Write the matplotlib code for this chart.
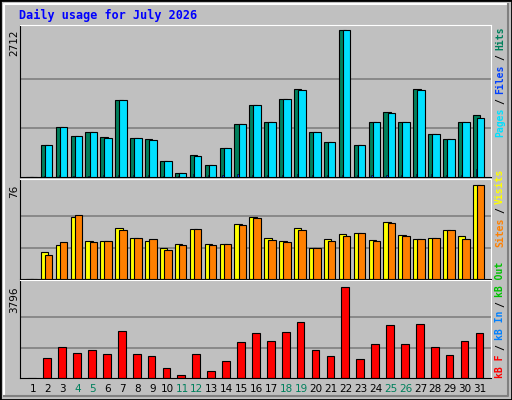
import matplotlib
matplotlib.use("Agg")
import matplotlib.pyplot as plt
from matplotlib.patches import Rectangle
import numpy as np

days = list(range(1, 32))
weekend_days = [4, 5, 11, 12, 18, 19, 25, 26]

hits = [0, 595, 926, 760, 834, 742, 1411, 723, 705, 301, 80, 411, 227, 540, 982, 1331,
        1018, 1442, 1626, 834, 650, 2712, 595, 1018, 1203, 1018, 1626, 797, 705, 1018, 1147]
pages = [0, 595, 926, 760, 834, 723, 1411, 723, 687, 301, 80, 393, 227, 540, 982, 1331,
         1018, 1442, 1608, 834, 650, 2712, 595, 1018, 1184, 1018, 1608, 797, 705, 1018, 1092]
files = [0, 25, 30, 25, 25, 30, 35, 30, 30, 25, 20, 60, 30, 30, 60, 35,
         35, 35, 60, 35, 35, 35, 35, 35, 35, 35, 55, 60, 35, 40, 150]
visits = [0, 21.7, 27.4, 49.7, 30.6, 30.6, 41.2, 33.0, 30.6, 24.7, 28.0, 40.4, 28.0, 28.0, 44.3, 49.7,
          33.0, 30.6, 41.2, 24.7, 32.2, 36.3, 37.1, 31.3, 46.2, 35.5, 32.2, 33.0, 39.5, 34.6, 76]
sites = [0, 19.2, 29.9, 51.3, 29.9, 30.6, 39.5, 33.0, 32.2, 23.0, 27.4, 40.4, 27.4, 28.0, 43.6, 48.9,
         31.3, 29.9, 39.5, 24.7, 30.6, 34.6, 37.1, 30.6, 45.5, 34.6, 32.2, 33.0, 39.5, 32.2, 76]
kbytes = [0, 845, 1302, 1053, 1178, 1011, 1967, 1011, 928, 429, 139, 1011, 305, 720, 1510, 1884,
          1551, 1925, 2341, 1178, 928, 3796, 803, 1427, 2216, 1427, 2258, 1302, 970, 1551, 1884]

BG = "#C0C0C0"
W, H = 512, 400
fig = plt.figure(figsize=(W / 100, H / 100), dpi=100, facecolor=BG)

def ax_at(top, bottom):
    return fig.add_axes([20 / W, 1 - bottom / H, (491 - 20) / W, (bottom - top) / H])

x = np.array(days)
panels = [
    (ax_at(25, 177), 2797, 2712),
    (ax_at(179, 279), 80.6, 76),
    (ax_at(280, 378), 4070, 3796),
]
for ax, ymax, vmax in panels:
    ax.set_facecolor(BG)
    ax.set_xlim(0.13, 31.74)
    ax.set_ylim(0, ymax)
    ax.set_xticks([])
    ax.set_yticks([])
    for g in (vmax / 3, 2 * vmax / 3):
        ax.axhline(g, color="#808080", lw=1.2, zorder=0)
    for s in ax.spines.values():
        s.set_color("black")
    ax.spines["top"].set_color("white")
    ax.spines["right"].set_color("white")
    ax.text(-0.013, vmax / ymax, str(vmax), transform=ax.transAxes, rotation=90,
            ha="center", va="top", fontsize=7.5, family="DejaVu Sans")

ax1, ax2, ax3 = [p[0] for p in panels]
ax1.bar(x - 0.48, hits, width=0.5, color="#00805C", edgecolor="black", lw=0.8, align="edge", zorder=2)
ax1.bar(x - 0.28, files, width=0.12, color="#0040FF", edgecolor="black", lw=0.4, align="edge", zorder=3)
ax1.bar(x - 0.2, pages, width=0.5, color="#00E0FF", edgecolor="black", lw=0.8, align="edge", zorder=4)
ax2.bar(x - 0.48, visits, width=0.5, color="#FFFF00", edgecolor="black", lw=0.8, align="edge", zorder=2)
ax2.bar(x - 0.2, sites, width=0.5, color="#FF8000", edgecolor="black", lw=0.8, align="edge", zorder=3)
ax3.bar(x - 0.3, kbytes, width=0.52, color="#FF0000", edgecolor="black", lw=0.8, align="edge", zorder=2)

# day labels
for d in days:
    fig.text((33 + (d - 1) * 14.9) / W, 1 - 389 / H, str(d), ha="center", va="center",
             fontsize=7.5, color="#00805C" if d in weekend_days else "black", family="DejaVu Sans")

fig.text(19 / W, 1 - 15 / H, "Daily usage for July 2026", color="#0000FF", fontsize=8.5,
         fontweight="bold", family="DejaVu Sans Mono", va="center")

def legend(parts, y_bottom):
    y = y_bottom
    for txt, col in parts:
        fig.text(500 / W, 1 - y / H, txt, rotation=90, color=col, fontsize=7,
                 fontweight="bold", family="DejaVu Sans Mono", ha="center", va="bottom")
        y -= len(txt) * 5.9 + 4

legend([("Pages", "#00E0FF"), ("/", "black"), ("Files", "#0040FF"), ("/", "black"), ("Hits", "#00805C")], 137)
legend([("Sites", "#FF8000"), ("/", "black"), ("Visits", "#FFFF00")], 247)
legend([("kB F", "#FF0000"), ("/", "black"), ("kB In", "#0080FF"), ("/", "black"), ("kB Out", "#00C000")], 378)

# frame
fig.patches.append(Rectangle((0, 0), 1, 1, transform=fig.transFigure, fill=False, ec="black", lw=2))
fig.add_artist(plt.Line2D([4 / W, 4 / W, 508 / W], [4 / H, 396 / H, 396 / H], transform=fig.transFigure, color="white", lw=1.5))
fig.add_artist(plt.Line2D([4 / W, 508 / W, 508 / W], [4 / H, 4 / H, 396 / H], transform=fig.transFigure, color="#808080", lw=1.5))

fig.savefig("out.png", dpi=100, facecolor=BG)
